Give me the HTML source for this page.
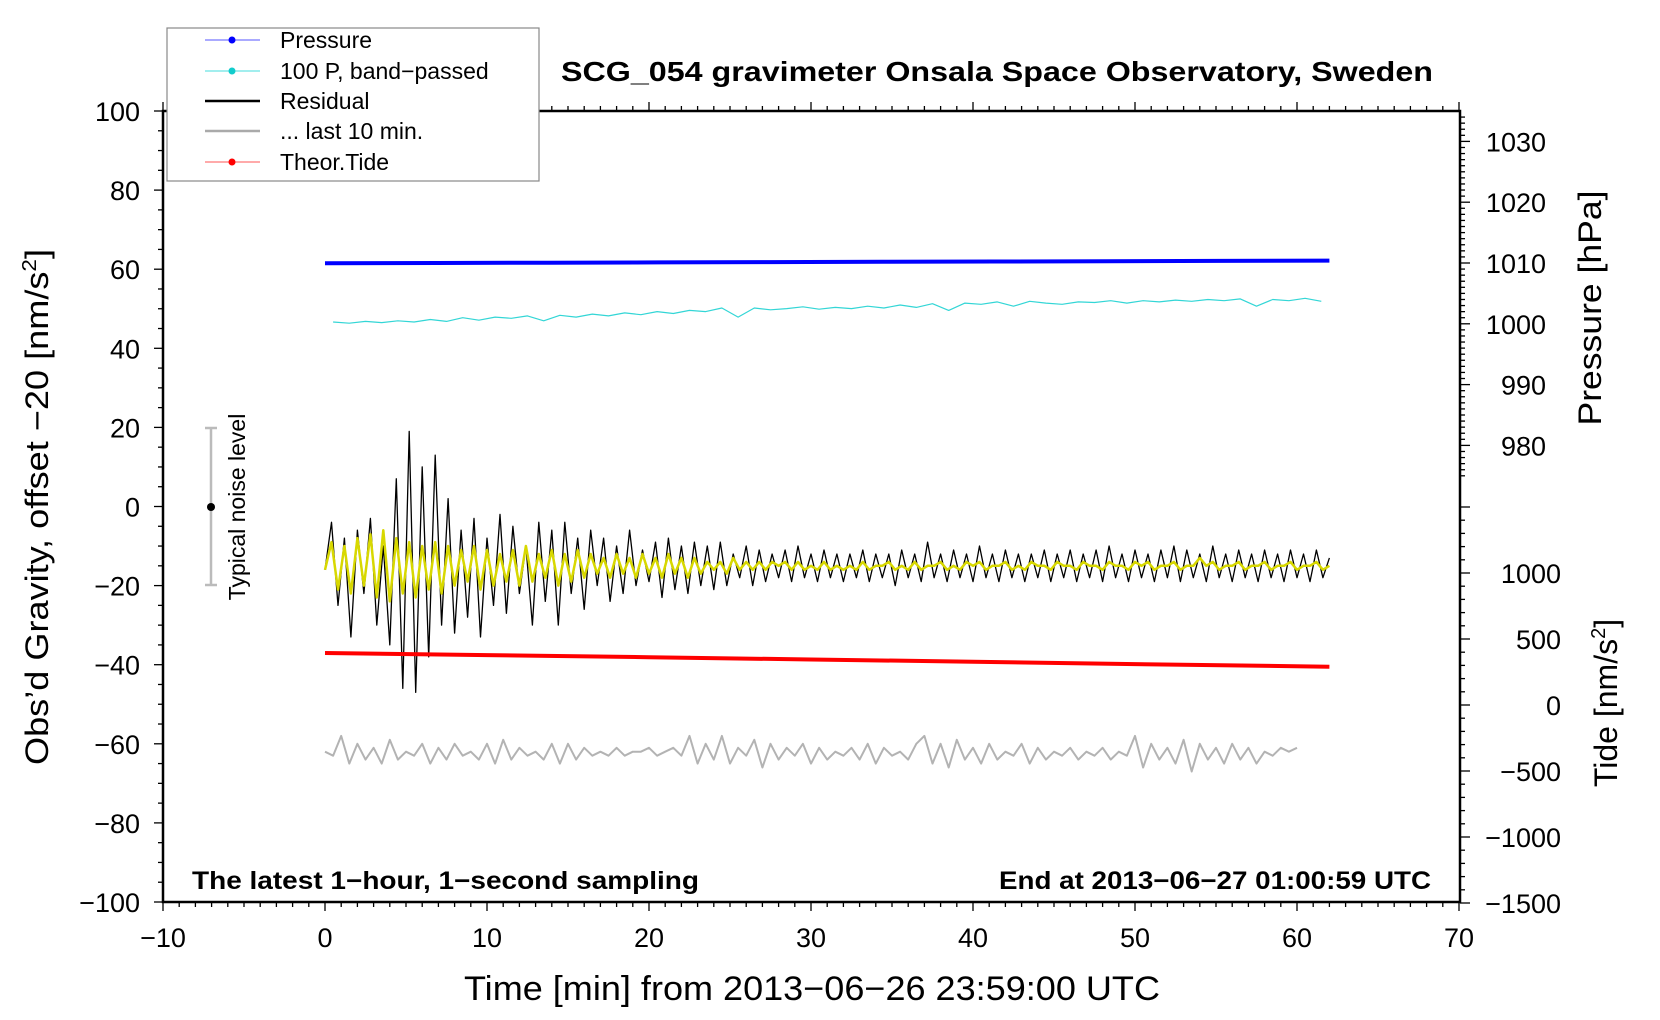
<!DOCTYPE html>
<html><head><meta charset="utf-8"><style>
html,body{margin:0;padding:0;background:#fff;}
svg{display:block;font-family:"Liberation Sans",sans-serif;}
</style></head><body>
<svg id="chart" width="1660" height="1020" viewBox="0 0 1660 1020" xmlns="http://www.w3.org/2000/svg">
<rect x="0" y="0" width="1660" height="1020" fill="#fff"/>
<g id="ticks"></g>
<g id="series"></g>
<rect x="163" y="111" width="1297" height="791" fill="none" stroke="#000" stroke-width="2.5"/>
<g id="labels"></g>
<g>
<line x1="211" y1="428" x2="211" y2="585" stroke="#bbb" stroke-width="2.5"/>
<line x1="205" y1="428" x2="217" y2="428" stroke="#bbb" stroke-width="2.5"/>
<line x1="205" y1="585" x2="217" y2="585" stroke="#bbb" stroke-width="2.5"/>
<circle cx="211" cy="507" r="4" fill="#000"/>
<text transform="translate(245,507) rotate(-90)" text-anchor="middle" font-size="23">Typical noise level</text>
</g>
<g>
<rect x="167" y="28" width="372" height="153" fill="#fff" stroke="#888" stroke-width="1.2"/>
<g><line x1="205" y1="40" x2="260" y2="40" stroke="#55f" stroke-width="1"/><circle cx="232" cy="40" r="3.5" fill="#00f"/><text x="280" y="48" font-size="23">Pressure</text></g>
<g><line x1="205" y1="71" x2="260" y2="71" stroke="#4dd" stroke-width="1"/><circle cx="232" cy="71" r="3.5" fill="#1cc"/><text x="280" y="79" font-size="23">100 P, band−passed</text></g>
<g><line x1="205" y1="101" x2="260" y2="101" stroke="#000" stroke-width="2.5"/><text x="280" y="109" font-size="23">Residual</text></g>
<g><line x1="205" y1="131" x2="260" y2="131" stroke="#aaa" stroke-width="2.5"/><text x="280" y="139" font-size="23">... last 10 min.</text></g>
<g><line x1="205" y1="162" x2="260" y2="162" stroke="#f55" stroke-width="1"/><circle cx="232" cy="162" r="3.5" fill="#f00"/><text x="280" y="170" font-size="23">Theor.Tide</text></g>
</g>
<text x="997" y="81" text-anchor="middle" font-size="28" font-weight="bold" textLength="872" lengthAdjust="spacingAndGlyphs">SCG_054 gravimeter Onsala Space Observatory, Sweden</text>
<text x="192" y="889" font-size="25" font-weight="bold" textLength="507" lengthAdjust="spacingAndGlyphs">The latest 1−hour, 1−second sampling</text>
<text x="1431" y="889" text-anchor="end" font-size="25" font-weight="bold" textLength="432" lengthAdjust="spacingAndGlyphs">End at 2013−06−27 01:00:59 UTC</text>
<text x="812" y="1000" text-anchor="middle" font-size="34" textLength="696" lengthAdjust="spacingAndGlyphs">Time [min] from 2013−06−26 23:59:00 UTC</text>
<text transform="translate(48,507) rotate(-90)" text-anchor="middle" font-size="32" textLength="516" lengthAdjust="spacingAndGlyphs">Obs’d Gravity, offset −20 [nm/s<tspan font-size="20" dy="-12">2</tspan><tspan dy="12">]</tspan></text>
<text transform="translate(1601,308) rotate(-90)" text-anchor="middle" font-size="32" textLength="235" lengthAdjust="spacingAndGlyphs">Pressure [hPa]</text>
<text transform="translate(1617,703) rotate(-90)" text-anchor="middle" font-size="32">Tide [nm/s<tspan font-size="20" dy="-12">2</tspan><tspan dy="12">]</tspan></text>
</svg>
<script>
const xTicks = [-10,0,10,20,30,40,50,60,70];
const gravTicks = [-100,-80,-60,-40,-20,0,20,40,60,80,100];
const pressTicks = [980,990,1000,1010,1020,1030];
const tideTicks = [-1500,-1000,-500,0,500,1000];
const pressure = [1009.95,1010.0,1010.05,1010.1,1010.15,1010.2,1010.25,1010.3,1010.35,1010.4];
const pressureSpan = [0,62];
const bandpassed = [1000.3,1000.1,1000.4,1000.2,1000.5,1000.3,1000.7,1000.4,1001.0,1000.6,1001.1,1000.9,1001.3,1000.5,1001.4,1001.1,1001.6,1001.3,1001.8,1001.5,1002.0,1001.7,1002.2,1002.0,1002.6,1001.1,1002.6,1002.3,1002.5,1002.8,1002.4,1002.7,1002.5,1002.9,1002.6,1003.1,1002.7,1003.3,1002.2,1003.4,1003.2,1003.6,1002.9,1003.7,1003.4,1003.2,1003.6,1003.5,1003.8,1003.4,1003.8,1003.6,1003.9,1003.7,1004.0,1003.8,1004.1,1002.9,1004.0,1003.8,1004.2,1003.7];
const bandpassedSpan = [0.5,61.5];
const residual = [-16,-4,-25,-8,-33,-6,-22,-3,-30,-10,-35,7,-46,19,-47,10,-38,13,-30,2,
-32,-6,-28,-3,-33,-8,-25,-2,-27,-5,-22,-10,-30,-4,-24,-6,-30,-4,-22,-8,
-26,-6,-20,-8,-24,-10,-22,-6,-20,-11,-19,-9,-23,-8,-21,-10,-22,-9,-20,-10,
-21,-9,-20,-12,-18,-10,-20,-11,-19,-12,-18,-11,-19,-10,-18,-12,-19,-11,-18,-12,
-19,-12,-18,-11,-19,-12,-18,-12,-20,-11,-18,-12,-19,-9,-18,-12,-19,-11,-18,-12,
-19,-10,-18,-12,-19,-11,-18,-12,-19,-12,-18,-11,-19,-12,-18,-11,-19,-12,-18,-11,
-19,-10,-18,-12,-19,-11,-18,-12,-19,-11,-18,-10,-19,-11,-18,-12,-19,-10,-18,-12,
-19,-11,-18,-12,-19,-11,-18,-12,-19,-11,-18,-12,-19,-11,-18,-13];
const filtered = [-16,-9,-21,-10,-22,-8,-20,-7,-23,-6,-24,-8,-22,-9,-23,-10,-21,-9,-22,-10,
-20,-11,-19,-10,-21,-11,-20,-12,-19,-11,-20,-10,-19,-12,-18,-11,-20,-12,-19,-11,
-18,-12,-17,-13,-18,-12,-17,-13,-18,-12,-17,-13,-18,-12,-17,-13,-18,-13,-17,-14,
-16,-14,-17,-13,-16,-14,-16,-14,-16,-14,-15,-14,-16,-14,-16,-15,-16,-14,-16,-15,
-16,-15,-16,-14,-16,-15,-15,-14,-16,-15,-16,-14,-16,-15,-15,-14,-16,-15,-16,-14,
-15,-14,-16,-15,-15,-14,-16,-15,-16,-14,-15,-15,-16,-14,-15,-15,-16,-14,-15,-15,
-16,-14,-15,-15,-16,-14,-15,-14,-16,-15,-15,-14,-16,-15,-15,-13,-15,-14,-16,-15,
-15,-14,-16,-15,-15,-14,-16,-15,-15,-14,-16,-15,-15,-14,-16,-15];
const residualSpan = [0,62];
const last10 = [-62,-63,-58,-65,-60,-64,-61,-65,-59,-64,-62,-63,-60,-65,-61,-64,-60,-63,-62,-64,-60,-65,-59,-64,-61,-63,-62,-64,-60,-65,-60,-64,-61,-63,-62,-63,-61,-63,-62,-62,-61,-63,-62,-61,-63,-58,-65,-60,-64,-58,-65,-61,-63,-59,-66,-60,-64,-61,-63,-60,-65,-61,-64,-62,-63,-61,-64,-60,-65,-61,-63,-62,-64,-60,-58,-65,-60,-66,-59,-64,-61,-65,-60,-64,-62,-63,-60,-65,-61,-64,-62,-63,-61,-64,-62,-63,-61,-64,-62,-63,-58,-66,-60,-64,-61,-65,-59,-67,-60,-64,-61,-65,-60,-64,-61,-65,-62,-63,-61,-62,-61];
const last10Span = [0,60];
const tideTimes = [0,10,20,30,40,50,62];
const tide = [394,378,362,345,328,310,290];

const X = t => 325 + t*16.2;
const YG = v => 506.5 - v*3.955;
const YP = p => 263 - (p-1010)*6.08;
const YT = v => 705 - v*0.132;
const NS = "http://www.w3.org/2000/svg";
const mk = (tag, parent) => { const e = document.createElementNS(NS, tag); parent.appendChild(e); return e; };
const ticksG = document.getElementById('ticks');
const labelsG = document.getElementById('labels');
const seriesG = document.getElementById('series');

function tick(x1,y1,x2,y2){
  const l = mk('line', ticksG);
  l.setAttribute('x1',x1); l.setAttribute('y1',y1); l.setAttribute('x2',x2); l.setAttribute('y2',y2);
  l.setAttribute('stroke','#000'); l.setAttribute('stroke-width','1.3');
  
  
}
function label(x,y,txt,anchor,name){
  const t = mk('text', labelsG);
  t.setAttribute('x',x); t.setAttribute('y',y); t.setAttribute('text-anchor',anchor);
  t.setAttribute('font-size','27'); t.textContent = String(txt).replace('-','−');
  
  
}
for (let m=-10; m<=70; m++){ const x=X(m); const maj = m%10===0; tick(x,902,x,maj?911:907); tick(x,111,x,maj?102:106); }
xTicks.forEach(v => label(X(v), 947, v, 'middle', 'x-tick-label'));
for (let v=-100; v<=100; v+=5){ const y=YG(v); tick(163,y,v%20===0?154:158,y); }
gravTicks.forEach(v => label(140, YG(v)+10, v, 'end', 'y-left-tick-label'));
for (let p=975; p<=1034; p++){ const y=YP(p); if (y<111) continue; tick(1460,y,p%10===0?1470:1465,y); }
pressTicks.forEach(v => label(1546, YP(v)+10, v, 'end', 'pressure-tick-label'));
for (let v=-1500; v<=1500; v+=100){ const y=YT(v); if (y<500) continue; tick(1460,y,v%500===0?1470:1465,y); }
tideTicks.forEach(v => label(1561, YT(v)+10, v, 'end', 'tide-tick-label'));

function line(vals, span, ys, color, w, name){
  const n = vals.length;
  const pts = vals.map((v,i) => X(span[0] + i*(span[1]-span[0])/(n-1)).toFixed(1)+','+ys(v).toFixed(1)).join(' ');
  const pl = mk('polyline', seriesG);
  pl.setAttribute('points', pts); pl.setAttribute('fill','none');
  pl.setAttribute('stroke', color); pl.setAttribute('stroke-width', w);
  pl.setAttribute('stroke-linejoin','round');
  
  
}
line(pressure, pressureSpan, YP, '#0000ff', 4, 'pressure-line');
line(bandpassed, bandpassedSpan, YP, '#33d6d6', 1.2, 'bandpassed-pressure-line');
line(residual, residualSpan, YG, '#000', 1.3, 'residual-line');
line(filtered, residualSpan, YG, '#d8d800', 2.5, 'filtered-residual-line');
line(last10, last10Span, YG, '#b3b3b3', 2, 'last-10-min-line');
(function(){
  const pts = tide.map((v,i) => X(tideTimes[i]).toFixed(1)+','+YT(v).toFixed(1)).join(' ');
  const pl = mk('polyline', seriesG);
  pl.setAttribute('points', pts); pl.setAttribute('fill','none');
  pl.setAttribute('stroke','#ff0000'); pl.setAttribute('stroke-width', 4);
  
  
})();
</script>
</body></html>
